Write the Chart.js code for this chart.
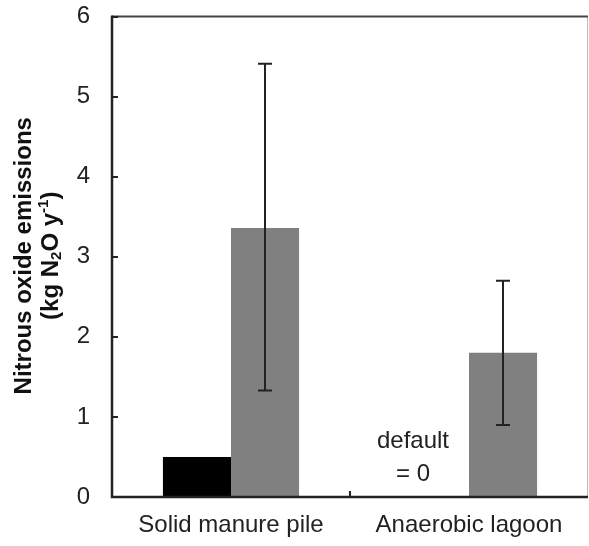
<!DOCTYPE html>
<html>
<head>
<meta charset="utf-8">
<script src="https://cdn.jsdelivr.net/npm/chart.js@4"></script>
<style>
  body { margin: 0; background: #fff; }
  canvas { display: block; }
</style>
</head>
<body>
<canvas id="myChart" width="589" height="546"></canvas>
<script>
// categories and values
const categories = ['Solid manure pile', 'Anaerobic lagoon'];
const defaultValues = [0.5, 0];
const measuredValues = [3.36, 1.8];
const measuredLow = [1.33, 0.9];
const measuredHigh = [5.41, 2.7];
const yTicks = [0, 1, 2, 3, 4, 5, 6];

const FONT = '"Liberation Sans", Arial, sans-serif';

// draws the frame, inward ticks, error bars, the y title and the "default = 0" note
const extras = {
  id: 'extras',
  afterDatasetsDraw(chart) {
    const ctx = chart.ctx;
    const a = chart.chartArea;
    const x = chart.scales.x;
    const y = chart.scales.y;

    ctx.save();
    // error bars on the measured series
    const meta = chart.getDatasetMeta(1);
    ctx.strokeStyle = '#222';
    ctx.lineWidth = 2;
    meta.data.forEach((bar, i) => {
      const cx = Math.round(bar.x);
      const top = y.getPixelForValue(measuredHigh[i]);
      const bot = y.getPixelForValue(measuredLow[i]);
      ctx.beginPath();
      ctx.moveTo(cx, top); ctx.lineTo(cx, bot);
      ctx.moveTo(cx - 7, top); ctx.lineTo(cx + 7, top);
      ctx.moveTo(cx - 7, bot); ctx.lineTo(cx + 7, bot);
      ctx.stroke();
    });

    // frame
    ctx.strokeStyle = '#bbb';
    ctx.lineWidth = 1;
    ctx.beginPath();
    ctx.moveTo(a.right - 0.5, a.top); ctx.lineTo(a.right - 0.5, a.bottom);
    ctx.stroke();
    ctx.strokeStyle = '#444';
    ctx.lineWidth = 2;
    ctx.beginPath();
    ctx.moveTo(a.left, a.top); ctx.lineTo(a.right, a.top);
    ctx.stroke();
    ctx.strokeStyle = '#222';
    ctx.lineWidth = 2.5;
    ctx.beginPath();
    ctx.moveTo(a.left, a.top - 1); ctx.lineTo(a.left, a.bottom); ctx.lineTo(a.right, a.bottom);
    ctx.stroke();

    // inward ticks
    ctx.lineWidth = 2;
    ctx.beginPath();
    yTicks.forEach(v => {
      const py = Math.round(y.getPixelForValue(v));
      ctx.moveTo(a.left, py); ctx.lineTo(a.left + 6, py);
    });
    const mid = (x.getPixelForValue(0) + x.getPixelForValue(1)) / 2;
    ctx.moveTo(mid, a.bottom); ctx.lineTo(mid, a.bottom - 6);
    ctx.stroke();

    // "default = 0" note above the empty default bar
    const nx = chart.getDatasetMeta(0).data[1].x - 22;
    ctx.fillStyle = '#222';
    ctx.font = '24px ' + FONT;
    ctx.textAlign = 'center';
    ctx.textBaseline = 'middle';
    ctx.fillText('default', nx, 441);
    ctx.fillText('= 0', nx, 474);

    // y axis title, two lines, rotated
    ctx.translate(0, (a.top + a.bottom) / 2 - 1);
    ctx.rotate(-Math.PI / 2);
    ctx.fillStyle = '#111';
    ctx.textBaseline = 'middle';
    ctx.textAlign = 'center';
    ctx.font = 'bold 24px ' + FONT;
    ctx.fillText('Nitrous oxide emissions', 0, 24);

    // second line with sub/superscripts
    const big = 'bold 24px ' + FONT;
    const small = 'bold 15px ' + FONT;
    const parts = [
      ['(kg N', big, 0],
      ['2', small, 6],
      ['O y', big, 0],
      ['-1', small, -7],
      [')', big, 0]
    ];
    let total = 0;
    parts.forEach(p => { ctx.font = p[1]; total += ctx.measureText(p[0]).width; });
    let px = -total / 2;
    ctx.textAlign = 'left';
    parts.forEach(p => {
      ctx.font = p[1];
      ctx.fillText(p[0], px, 51 + p[2]);
      px += ctx.measureText(p[0]).width;
    });
    ctx.restore();
  }
};

new Chart(document.getElementById('myChart'), {
  type: 'bar',
  data: {
    labels: categories,
    datasets: [
      { label: 'default', data: defaultValues, backgroundColor: '#000' },
      { label: 'measured', data: measuredValues, backgroundColor: '#808080' }
    ]
  },
  options: {
    responsive: false,
    devicePixelRatio: 1,
    animation: false,
    categoryPercentage: 0.572,
    barPercentage: 1,
    layout: { padding: { top: 16.5, right: 1, left: 0, bottom: 0 } },
    plugins: { legend: { display: false }, tooltip: { enabled: false } },
    scales: {
      x: {
        grid: { display: false, drawTicks: false },
        border: { display: false },
        ticks: { color: '#222', font: { family: FONT, size: 24 }, padding: 14, maxRotation: 0 },
        afterFit(s) { s.height = 49; s.paddingLeft = 0; s.paddingRight = 0; }
      },
      y: {
        min: 0,
        max: 6,
        grid: { display: false, drawTicks: false },
        border: { display: false },
        ticks: { stepSize: 1, color: '#222', font: { family: FONT, size: 24 }, padding: 22 },
        afterFit(s) { s.width = 112; s.paddingTop = 0; s.paddingBottom = 0; }
      }
    }
  },
  plugins: [extras]
});
</script>
</body>
</html>
